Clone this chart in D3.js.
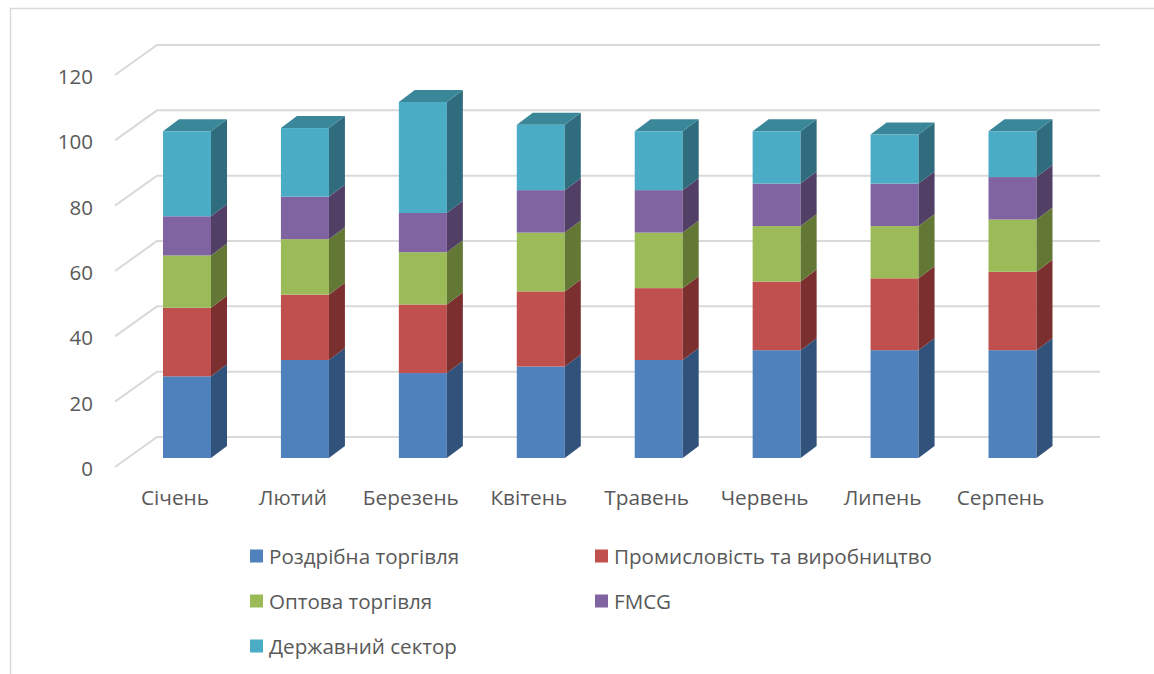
<!DOCTYPE html>
<html><head><meta charset="utf-8">
<script src="https://cdn.jsdelivr.net/npm/d3@7"></script>
<style>html,body{margin:0;padding:0;background:#fff;}svg{display:block;}</style>
</head><body>
<svg id="chart" width="1154" height="674"></svg>
<script>
const categories = ["Січень","Лютий","Березень","Квітень","Травень","Червень","Липень","Серпень"];
const seriesNames = ["Роздрібна торгівля","Промисловість та виробництво","Оптова торгівля","FMCG","Державний сектор"];
const retail     = [25, 30, 26, 28, 30, 33, 33, 33];
const industry   = [21, 20, 21, 23, 22, 21, 22, 24];
const wholesale  = [16, 17, 16, 18, 17, 17, 16, 16];
const fmcg       = [12, 13, 12, 13, 13, 13, 13, 13];
const government = [26, 21, 34, 20, 18, 16, 15, 14];
const yTicks = [0, 20, 40, 60, 80, 100, 120];

const seriesValues = [retail, industry, wholesale, fmcg, government];
const frontColors = ["#4f81bd","#c0504d","#9bbb59","#8064a2","#4bacc6"];
const sideColors  = ["#31527a","#7b302f","#637835","#513f66","#2f6c7d"];
const topColors   = ["#3d6799","#9c403e","#7e9848","#684f85","#3a8799"];

const svg = d3.select("#chart");
const font = "'Open Sans', 'Noto Sans', sans-serif";
const textColor = "#595959";

// outer frame
svg.append("rect").attr("x",10.5).attr("y",8.5).attr("width",1160).attr("height",680)
  .attr("fill","none").attr("stroke","#d9d9d9").attr("stroke-width",1.5);

const yBack = d3.scaleLinear().domain([0,120]).range([437,45]);
const yFront = d3.scaleLinear().domain([0,120]).range([458,66]);
const x = d3.scalePoint().domain(categories).range([187,1012.5]);
const barW = 48, dx = 16, dy = -12;
const wallX0 = 157, wallX1 = 1100, diagDx = 42, diagDy = 30;

// gridlines
const g = svg.append("g");
yTicks.forEach(v => {
  const yb = yBack(v);
  g.append("path")
    .attr("d", `M${wallX0 - diagDx},${yb + diagDy} L${wallX0},${yb} L${wallX1},${yb}`)
    .attr("fill","none").attr("stroke","#d9d9d9").attr("stroke-width",2);
  g.append("text").attr("x",93).attr("y",yb + 31)
    .attr("text-anchor","end").attr("dominant-baseline","central")
    .attr("font-family",font).attr("font-size",20.5).attr("fill",textColor)
    .text(v);
});

// stacked data
const stackData = categories.map((c,i) => {
  const o = {cat:c};
  seriesNames.forEach((s,k) => o[s] = seriesValues[k][i]);
  return o;
});
const stacked = d3.stack().keys(seriesNames)(stackData);

const bars = svg.append("g");
categories.forEach((c,i) => {
  const xl = x(c) - barW/2, xr = x(c) + barW/2;
  stacked.forEach((layer,k) => {
    const [v0,v1] = layer[i];
    const yb = yFront(v0), yt = yFront(v1);
    bars.append("rect").attr("x",xl).attr("y",yt).attr("width",barW).attr("height",yb-yt)
      .attr("fill",frontColors[k]);
    bars.append("path")
      .attr("d",`M${xr},${yt} L${xr+dx},${yt+dy} L${xr+dx},${yb+dy} L${xr},${yb} Z`)
      .attr("fill",sideColors[k]);
    if (k === stacked.length-1) {
      bars.append("path")
        .attr("d",`M${xl},${yt} L${xl+dx},${yt+dy} L${xr+dx},${yt+dy} L${xr},${yt} Z`)
        .attr("fill",topColors[k]);
    }
  });
  svg.append("text").attr("x",x(c)-12).attr("y",497)
    .attr("text-anchor","middle").attr("dominant-baseline","central")
    .attr("font-family",font).attr("font-size",20.8).attr("fill",textColor)
    .text(c);
});

// legend
const legendPos = [[250,556],[595,556],[250,601],[595,601],[250,646]];
seriesNames.forEach((s,k) => {
  const [lx,ly] = legendPos[k];
  svg.append("rect").attr("x",lx).attr("y",ly-6.5).attr("width",13).attr("height",13)
    .attr("fill",frontColors[k]);
  svg.append("text").attr("x",lx+19).attr("y",ly)
    .attr("dominant-baseline","central")
    .attr("font-family",font).attr("font-size",20.6).attr("fill",textColor)
    .text(s);
});
</script>
</body></html>
